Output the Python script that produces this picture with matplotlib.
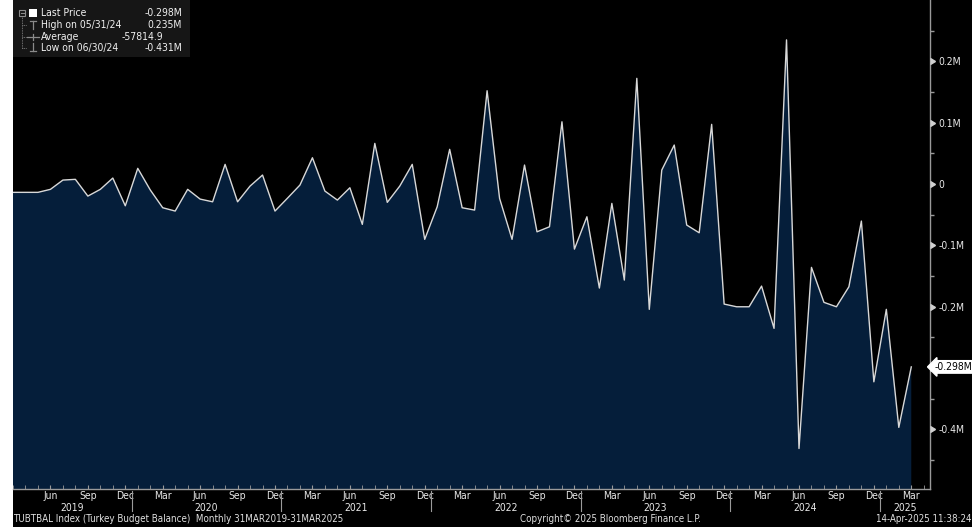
import matplotlib
matplotlib.use("Agg")
import matplotlib.pyplot as plt
import matplotlib.patches as mpatches
from matplotlib.lines import Line2D
import numpy as np

# ---------------- data ----------------
start_year, start_month = 2019, 3
values = [
    -13500, -13500, -13500, -8600, 6500, 7700, -19600, -8600, 9800, -35400,      # Mar19-Dec19
    25600, -9500, -38600, -44000, -8600, -24500, -28900, 32100, -28900, -3300, 14700, -44000,  # 2020
    -23000, -1600, 42900, -11400, -26100, -6000, -65700, 66300, -29800, -3300, 32100, -90100,  # 2021
    -37000, 56600, -38600, -42400, 152100, -23300, -90100, 31000, -77800, -69600, 101500, -106000,  # 2022
    -53300, -169500, -31500, -156500, 172300, -204200, 22800, 63600, -66800, -79400, 97300, -195600,  # 2023
    -200000, -200000, -166300, -235200, 235000, -431000, -135800, -192800, -200000, -167400, -60300, -322300,  # 2024
    -204200, -396600, -298000,  # 2025
]
month_names = ["Jan", "Feb", "Mar", "Apr", "May", "Jun", "Jul", "Aug", "Sep", "Oct", "Nov", "Dec"]
y_ticks = [-400000, -300000, -200000, -100000, 0, 100000, 200000]
y_tick_labels = ["-0.4M", "", "-0.2M", "-0.1M", "0", "0.1M", "0.2M"]
legend_labels = ["Last Price", "High on 05/31/24", "Average", "Low on 06/30/24"]
legend_values = ["-0.298M", "0.235M", "-57814.9", "-0.431M"]
last_label = "-0.298M"
footer_left = "TUBTBAL Index (Turkey Budget Balance)  Monthly 31MAR2019-31MAR2025"
footer_mid = "Copyright\u00a9 2025 Bloomberg Finance L.P."
footer_right = "14-Apr-2025 11:38:24"

# ---------------- setup ----------------
W, H = 976, 531
plt.rcParams["font.family"] = ["DejaVu Sans"]
plt.rcParams["font.stretch"] = "condensed"
fig = plt.figure(figsize=(W / 100, H / 100), dpi=100, facecolor="white")

def fx(px):
    return px / W

def fy(py):
    return 1 - py / H

# black background panel
fig.patches.append(mpatches.Rectangle((fx(13), fy(527)), fx(972) - fx(13), fy(0) - fy(527),
                                      transform=fig.transFigure, fc="black", ec="none", zorder=-10))

ax_l, ax_r, ax_t, ax_b = 13, 930, 0, 489
ax = fig.add_axes([fx(ax_l), fy(ax_b), fx(ax_r) - fx(ax_l), fy(ax_t) - fy(ax_b)])
ax.set_zorder(1)
ax.set_facecolor("black")

n = len(values)
x = np.arange(n)
vals = np.array(values, dtype=float)
ax.fill_between(x, vals, -1e7, color="#051e3a", lw=0, zorder=1)
ax.plot(x, vals, color="#d8d8d8", lw=1.0, zorder=2)

ax.set_xlim(0, 73.5)
ax.set_ylim(-497000, 300000)

# spines
for s in ["left", "top"]:
    ax.spines[s].set_visible(False)
for s in ["right", "bottom"]:
    ax.spines[s].set_color("#9a9a9a")
    ax.spines[s].set_linewidth(1.0)

# y axis (right)
ax.yaxis.tick_right()
ax.set_yticks(y_ticks)
ax.set_yticklabels(y_tick_labels)
ax.set_yticks([t + 50000 for t in y_ticks[:-1]] + [250000, -450000], minor=True)
ax.tick_params(axis="y", which="major", length=0, pad=6, labelsize=7.5, labelcolor="#e8e8e8")
ax.tick_params(axis="y", which="minor", length=3, color="#9a9a9a", width=1)
ax.plot([1.0] * len(y_ticks), y_ticks, marker=9, ms=5, color="#d0d0d0", ls="none",
        transform=ax.get_yaxis_transform(), clip_on=False, zorder=5)

# last price tag
ax.text(1.0045, values[-1], last_label, transform=ax.get_yaxis_transform(), ha="left", va="center",
        fontsize=7.5, color="black", zorder=6,
        bbox=dict(boxstyle="larrow,pad=0.12", fc="white", ec="white"))

# x axis
month_idx = [(start_month - 1 + i) % 12 for i in range(n)]
years = [start_year + (start_month - 1 + i) // 12 for i in range(n)]
major = [i for i in range(n) if month_names[month_idx[i]] in ("Mar", "Jun", "Sep", "Dec") and i > 0]
ax.set_xticks(major)
ax.set_xticklabels([month_names[month_idx[i]] for i in major])
ax.set_xticks(list(range(n + 1)), minor=True)
ax.tick_params(axis="x", which="both", direction="in", length=3, color="#9a9a9a", pad=1.5,
               labelsize=7.5, labelcolor="#e8e8e8")

# year labels and separators
xmax = 73.5
for yr in sorted(set(years)):
    idx = [i for i in range(n) if years[i] == yr]
    lo = max(idx[0] - 0.5, 0)
    hi = min(idx[-1] + 0.5, xmax) if idx[-1] < n - 1 else xmax
    ax.text((lo + hi) / 2, -0.038, str(yr), transform=ax.get_xaxis_transform(), ha="center",
            va="center", fontsize=7.5, color="#e8e8e8", clip_on=False)
    if idx[-1] < n - 1:
        ax.add_line(Line2D([idx[-1] + 0.5] * 2, [-0.004, -0.046], transform=ax.get_xaxis_transform(),
                           color="#9a9a9a", lw=0.8, clip_on=False))

# footer
fig.text(fx(13), fy(519), footer_left, ha="left", va="center", fontsize=7, color="#e0e0e0")
fig.text(fx(610), fy(519), footer_mid, ha="center", va="center", fontsize=7, color="#e0e0e0")
fig.text(fx(971), fy(519), footer_right, ha="right", va="center", fontsize=7, color="#e0e0e0")

# legend box
leg_ax = fig.add_axes([0, 0, 1, 1], facecolor="none")
leg_ax.set_zorder(3)
leg_ax.set_xlim(0, W)
leg_ax.set_ylim(H, 0)
leg_ax.axis("off")
leg_ax.add_patch(mpatches.Rectangle((13, 0), 177, 57, fc="#161616", ec="none"))
rows = [13, 25, 37, 48]
gc = "#8a8a8a"
def fl(xs, ys, **kw):
    leg_ax.add_line(Line2D(xs, ys, **kw))
leg_ax.add_patch(mpatches.Rectangle((19, 10), 6, 6, fc="none", ec=gc, lw=0.8))
fl([20.5, 23.5], [13, 13], color=gc, lw=0.8)
fl([22, 22], [16, 49], color=gc, lw=0.6, ls=(0, (1, 1)))
for r in rows[1:]:
    fl([22, 27], [r, r], color=gc, lw=0.6, ls=(0, (1, 1)))
leg_ax.add_patch(mpatches.Rectangle((29, 9), 8, 8, fc="white", ec="none"))
fl([30, 36], [21, 21], color=gc, lw=0.9)
fl([33, 33], [21, 29], color=gc, lw=0.9)
fl([27, 39], [37, 37], color=gc, lw=0.9)
fl([33, 33], [34, 40], color=gc, lw=0.9)
fl([33, 33], [43, 51], color=gc, lw=0.9)
fl([30, 36], [51, 51], color=gc, lw=0.9)
for r, lab, val in zip(rows, legend_labels, legend_values):
    leg_ax.text(41, r, lab, ha="left", va="center", fontsize=7.5, color="#f0f0f0")
    xr = 163 if lab == "Average" else 182
    leg_ax.text(xr, r, val, ha="right", va="center", fontsize=7.5, color="#f0f0f0")

fig.savefig("out.png", dpi=100, facecolor="white")
